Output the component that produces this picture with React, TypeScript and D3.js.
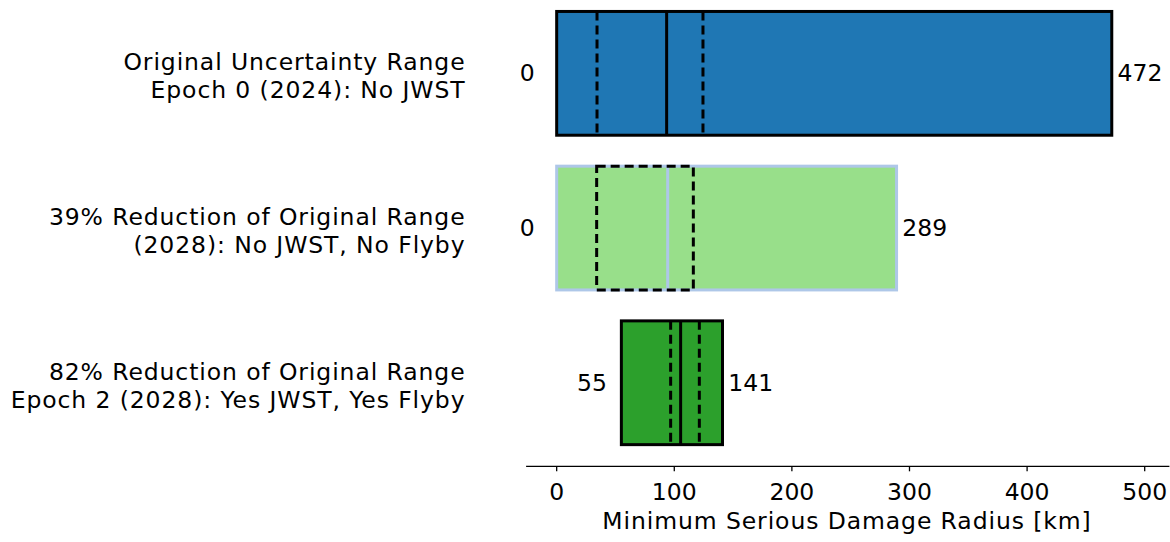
import React from "react";
import * as d3 from "d3";

const categories = [
  ["Original Uncertainty Range", "Epoch 0 (2024): No JWST"],
  ["39% Reduction of Original Range", "(2028): No JWST, No Flyby"],
  ["82% Reduction of Original Range", "Epoch 2 (2028): Yes JWST, Yes Flyby"],
];
const minValues = [0, 0, 55];
const maxValues = [472, 289, 141];
const medianValues = [93.5, 94.4, 105.4];
const lowerValues = [34.3, 34.0, 96.9];
const upperValues = [124.4, 116.2, 121.3];
const xTicks = [0, 100, 200, 300, 400, 500];
const xLabel = "Minimum Serious Damage Radius [km]";

const fills = ["#1f77b4", "#98df8a", "#2ca02c"];
const edges = ["#000000", "#aec7e8", "#000000"];
const boxStyle = ["lines", "rect", "lines"];

const W = 1170;
const H = 542;
const FONT = "DejaVu Sans, sans-serif";
const FS = 23.5;
const LS = 0.9;

export default function App() {
  const x = d3.scaleLinear().domain([-26, 521]).range([526.1, 1169.4]);
  const idx = categories.map((_, i) => String(i));
  const y = d3
    .scaleBand<string>()
    .domain(idx)
    .range([-10.2, 466.3])
    .paddingInner(0.2)
    .paddingOuter(0.14);
  const axisY = 466.3;
  const bw = y.bandwidth();

  return (
    <svg
      width={W}
      height={H}
      style={{ position: "absolute", left: 0, top: 0, background: "#fff" }}
      fontFamily={FONT}
    >
      {categories.map((cat, i) => {
        const y0 = y(String(i))!;
        const cy = y0 + bw / 2;
        const x0 = x(minValues[i]);
        const x1 = x(maxValues[i]);
        const xl = x(lowerValues[i]);
        const xu = x(upperValues[i]);
        const xm = x(medianValues[i]);
        return (
          <g key={i}>
            <rect
              x={x0}
              y={y0}
              width={x1 - x0}
              height={bw}
              fill={fills[i]}
              stroke={edges[i]}
              strokeWidth={3}
            />
            <line x1={xm} x2={xm} y1={y0} y2={y0 + bw} stroke={edges[i]} strokeWidth={3} />
            {boxStyle[i] === "lines" ? (
              <>
                <line x1={xl} x2={xl} y1={y0} y2={y0 + bw} stroke="#000" strokeWidth={3} strokeDasharray="9,5" />
                <line x1={xu} x2={xu} y1={y0} y2={y0 + bw} stroke="#000" strokeWidth={3} strokeDasharray="9,5" />
              </>
            ) : (
              <rect
                x={xl}
                y={y0}
                width={xu - xl}
                height={bw}
                fill="none"
                stroke="#000"
                strokeWidth={3}
                strokeDasharray="9,5"
              />
            )}
            <text
              x={x(minValues[i] - 25)}
              y={cy}
              textAnchor="middle"
              dominantBaseline="central"
              fontSize={FS}
              fill="#000"
            >
              {minValues[i]}
            </text>
            <text
              x={x(maxValues[i] + 24)}
              y={cy}
              textAnchor="middle"
              dominantBaseline="central"
              fontSize={FS}
              fill="#000"
            >
              {maxValues[i]}
            </text>
            <text x={465.5} y={cy - 11} textAnchor="end" dominantBaseline="central" fontSize={FS} letterSpacing={LS} fill="#000">
              {cat[0]}
            </text>
            <text x={465.5} y={cy + 17} textAnchor="end" dominantBaseline="central" fontSize={FS} letterSpacing={LS} fill="#000">
              {cat[1]}
            </text>
          </g>
        );
      })}
      <line x1={x.range()[0]} x2={x.range()[1]} y1={axisY} y2={axisY} stroke="#000" strokeWidth={1.3} />
      {xTicks.map((t) => (
        <g key={t}>
          <line x1={x(t)} x2={x(t)} y1={axisY} y2={axisY + 5} stroke="#000" strokeWidth={1.3} />
          <text x={x(t)} y={492} textAnchor="middle" dominantBaseline="central" fontSize={FS} fill="#000">
            {t}
          </text>
        </g>
      ))}
      <text x={847} y={521} textAnchor="middle" dominantBaseline="central" fontSize={FS} letterSpacing={LS} fill="#000">
        {xLabel}
      </text>
    </svg>
  );
}
